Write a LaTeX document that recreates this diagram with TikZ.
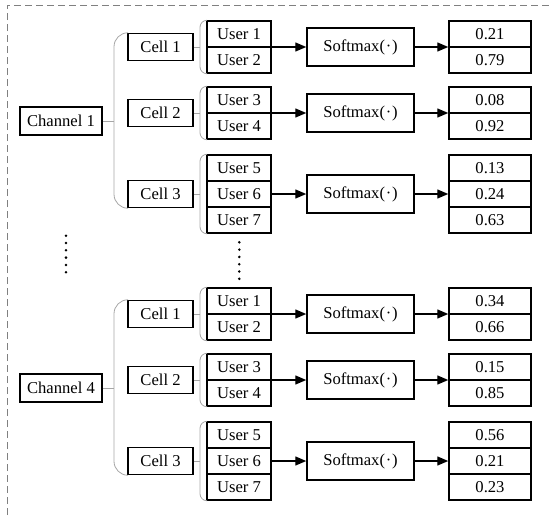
\documentclass[tikz,border=0pt]{standalone}
\usepackage{fontspec}
\setmainfont{Liberation Serif}
\usetikzlibrary{arrows.meta}
\tikzset{
  box/.style={draw, line width=1.5pt, inner sep=0pt, font=\fontsize{16.6}{17}\selectfont},
  chbox/.style={box, minimum width=82pt, minimum height=28pt},
  cellbox/.style={box, minimum width=65pt, minimum height=27pt},
  ubox/.style={box, minimum width=64pt, minimum height=26pt},
  smbox/.style={box, minimum width=107pt, minimum height=38pt},
  obox/.style={box, minimum width=82pt, minimum height=26pt},
  brk/.style={draw=black!35, line width=0.8pt},
  arr/.style={line width=1.4pt, -{Triangle[length=11pt,width=9pt]}},
  border/.style={draw=black!50, line width=0.9pt, dash pattern=on 7pt off 4pt},
  dotmark/.style={fill=black}
}
\newcommand{\chblock}[9]{%
\begin{scope}[yshift=-#1pt]
  \node[chbox] (ch#2) at (61,121) {Channel #2};
  \node[cellbox] (ca#2) at (160.5,47) {Cell 1};
  \node[cellbox] (cb#2) at (160.5,113) {Cell 2};
  \node[cellbox] (cc#2) at (160.5,194) {Cell 3};
  % users
  \node[ubox] (ua#2) at (239,34) {User 1};
  \node[ubox] (ub#2) at (239,60) {User 2};
  \node[ubox] (uc#2) at (239,100) {User 3};
  \node[ubox] (ud#2) at (239,126) {User 4};
  \node[ubox] (ue#2) at (239,168) {User 5};
  \node[ubox] (uf#2) at (239,194) {User 6};
  \node[ubox] (ug#2) at (239,220) {User 7};
  % softmax
  \node[smbox] (sa#2) at (360.5,47) {Softmax(\kern0.8pt·\kern0.8pt)};
  \node[smbox] (sb#2) at (360.5,113) {Softmax(\kern0.8pt·\kern0.8pt)};
  \node[smbox] (sc#2) at (360.5,194) {Softmax(\kern0.8pt·\kern0.8pt)};
  % outputs
  \node[obox] (oa#2) at (490,34) {#3};
  \node[obox] (ob#2) at (490,60) {#4};
  \node[obox] (oc#2) at (490,100) {#5};
  \node[obox] (od#2) at (490,126) {#6};
  \node[obox] (oe#2) at (490,168) {#7};
  \node[obox] (of#2) at (490,194) {#8};
  \node[obox] (og#2) at (490,220) {#9};
  % brackets
  \coordinate (cj#2) at (114,121);
  \draw[brk] (ch#2.east) -- (cj#2);
  \draw[brk, rounded corners=14pt] (ca#2.north west) -| (cj#2) |- (cc#2.south west);
  \coordinate (ja#2) at (200,47);
  \coordinate (jb#2) at (200,113);
  \coordinate (jc#2) at (200,194);
  \draw[brk] (ca#2.east) -- (ja#2);
  \draw[brk] (cb#2.east) -- (jb#2);
  \draw[brk] (cc#2.east) -- (jc#2);
  \draw[brk, rounded corners=7pt] (ua#2.north west) -| (ja#2) |- (ub#2.south west);
  \draw[brk, rounded corners=7pt] (uc#2.north west) -| (jb#2) |- (ud#2.south west);
  \draw[brk, rounded corners=7pt] (ue#2.north west) -| (jc#2) |- (ug#2.south west);
  % arrows
  \draw[arr] (sa#2.west -| ua#2.east) -- (sa#2.west);
  \draw[arr] (sb#2.west -| uc#2.east) -- (sb#2.west);
  \draw[arr] (sc#2.west -| uf#2.east) -- (sc#2.west);
  \draw[arr] (sa#2.east) -- (sa#2.east -| oa#2.west);
  \draw[arr] (sb#2.east) -- (sb#2.east -| oc#2.west);
  \draw[arr] (sc#2.east) -- (sc#2.east -| of#2.west);
\end{scope}}
\begin{document}
\begin{tikzpicture}[x=1pt,y=-1pt]
  \useasboundingbox (0,0) rectangle (551,515);
  \draw[border] (7,515) -- (7,5) -- (551,5);
  \chblock{0}{1}{0.21}{0.79}{0.08}{0.92}{0.13}{0.24}{0.63}
  \chblock{267}{4}{0.34}{0.66}{0.15}{0.85}{0.56}{0.21}{0.23}
  \foreach \k in {0,...,5} {
    \fill[dotmark] (66,235.7+7.3*\k) circle (1.4pt);
    \fill[dotmark] (239.3,242.3+7.3*\k) circle (1.4pt);
  }
\end{tikzpicture}
\end{document}
